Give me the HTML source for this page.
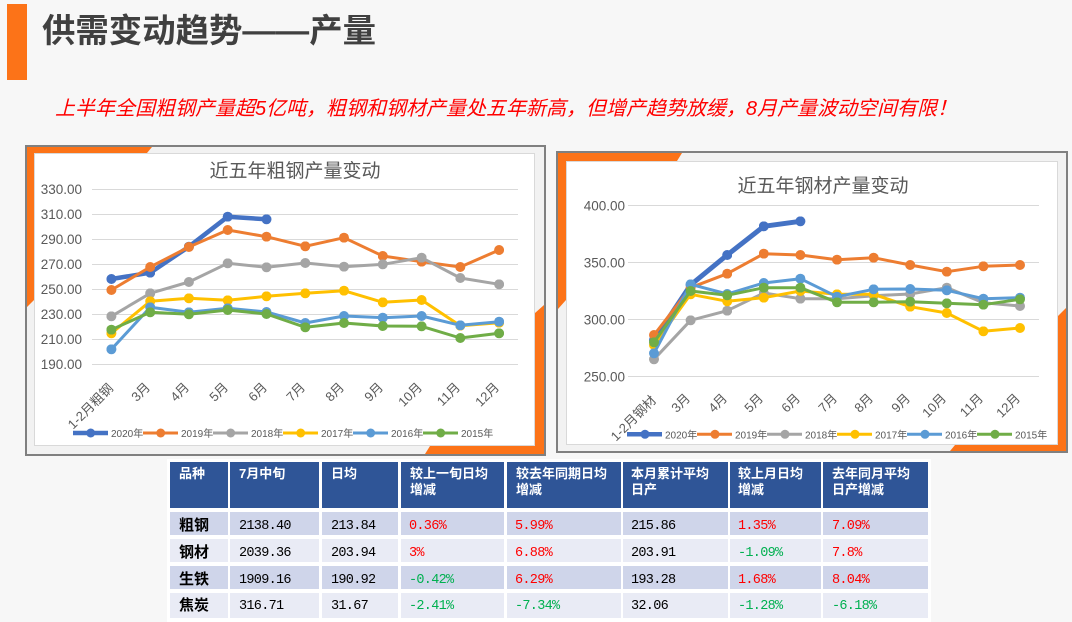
<!DOCTYPE html>
<html><head><meta charset="utf-8">
<style>
html,body{margin:0;padding:0;background:#f7f7f7;}
svg{display:block;}
.cjk{font-family:"Liberation Sans","Noto Sans CJK SC",sans-serif;}
.mono{font-family:"Liberation Mono","Noto Sans CJK SC",monospace;}
</style></head>
<body>
<svg width="1072" height="622" viewBox="0 0 1072 622" xmlns="http://www.w3.org/2000/svg">
<defs>
<marker id="a0" viewBox="0 0 10 10" refX="5" refY="5" markerWidth="10" markerHeight="10" markerUnits="userSpaceOnUse"><circle cx="5" cy="5" r="5" fill="#4472C4"/></marker>
<marker id="a1" viewBox="0 0 10 10" refX="5" refY="5" markerWidth="10" markerHeight="10" markerUnits="userSpaceOnUse"><circle cx="5" cy="5" r="5" fill="#ED7D31"/></marker>
<marker id="a2" viewBox="0 0 10 10" refX="5" refY="5" markerWidth="10" markerHeight="10" markerUnits="userSpaceOnUse"><circle cx="5" cy="5" r="5" fill="#A5A5A5"/></marker>
<marker id="a3" viewBox="0 0 10 10" refX="5" refY="5" markerWidth="10" markerHeight="10" markerUnits="userSpaceOnUse"><circle cx="5" cy="5" r="5" fill="#FFC000"/></marker>
<marker id="a4" viewBox="0 0 10 10" refX="5" refY="5" markerWidth="10" markerHeight="10" markerUnits="userSpaceOnUse"><circle cx="5" cy="5" r="5" fill="#5B9BD5"/></marker>
<marker id="a5" viewBox="0 0 10 10" refX="5" refY="5" markerWidth="10" markerHeight="10" markerUnits="userSpaceOnUse"><circle cx="5" cy="5" r="5" fill="#70AD47"/></marker>
</defs>

<rect width="1072" height="622" fill="#f7f7f7"/>

<!-- Title -->
<rect x="7" y="4" width="20" height="76" fill="#FC7318"/>
<text x="42" y="42" class="cjk" font-size="33" font-weight="bold" fill="#404040" textLength="334" lengthAdjust="spacingAndGlyphs">供需变动趋势——产量</text>
<text x="55" y="115" class="cjk" font-size="20" font-style="italic" fill="#FF0000" textLength="902" lengthAdjust="spacing">上半年全国粗钢产量超5亿吨，粗钢和钢材产量处五年新高，但增产趋势放缓，8月产量波动空间有限！</text>

<!-- ===== Chart 1 frame ===== -->
<rect x="26" y="146" width="519" height="309" fill="#f2f2f2" stroke="#808080" stroke-width="2"/>
<polygon points="27,147 152,147 147,153 34,153 34,300 27,307" fill="#FC7318"/>
<polygon points="544,305 544,454 425,454 430,446 535,446 535,313" fill="#FC7318"/>
<rect x="34.5" y="153.5" width="500" height="292" fill="#ffffff" stroke="#d9d9d9" stroke-width="1"/>

<text x="295" y="177" text-anchor="middle" class="cjk" font-size="19" fill="#595959">近五年粗钢产量变动</text>

<g stroke="#d9d9d9" stroke-width="1">
<line x1="92" y1="189.5" x2="518" y2="189.5"/>
<line x1="92" y1="214.5" x2="518" y2="214.5"/>
<line x1="92" y1="239.5" x2="518" y2="239.5"/>
<line x1="92" y1="264.5" x2="518" y2="264.5"/>
<line x1="92" y1="289.5" x2="518" y2="289.5"/>
<line x1="92" y1="314.5" x2="518" y2="314.5"/>
<line x1="92" y1="339.5" x2="518" y2="339.5"/>
<line x1="92" y1="364.5" x2="518" y2="364.5"/>
</g>
<g class="cjk" font-size="13.5" fill="#595959" text-anchor="end">
<text x="82" y="194">330.00</text>
<text x="82" y="219">310.00</text>
<text x="82" y="244">290.00</text>
<text x="82" y="269">270.00</text>
<text x="82" y="294">250.00</text>
<text x="82" y="319">230.00</text>
<text x="82" y="344">210.00</text>
<text x="82" y="369">190.00</text>
</g>
<g class="cjk" font-size="13" fill="#595959" text-anchor="end">
<text transform="translate(114,389) rotate(-45)">1-2月粗钢</text>
<text transform="translate(151,388) rotate(-45)">3月</text>
<text transform="translate(190,388) rotate(-45)">4月</text>
<text transform="translate(229,388) rotate(-45)">5月</text>
<text transform="translate(268,388) rotate(-45)">6月</text>
<text transform="translate(306,388) rotate(-45)">7月</text>
<text transform="translate(345,388) rotate(-45)">8月</text>
<text transform="translate(384,388) rotate(-45)">9月</text>
<text transform="translate(423,388) rotate(-45)">10月</text>
<text transform="translate(461,388) rotate(-45)">11月</text>
<text transform="translate(500,388) rotate(-45)">12月</text>
</g>

<g fill="none" stroke-linejoin="round">
<polyline stroke="#4472C4" stroke-width="4.5" marker-start="url(#a0)" marker-mid="url(#a0)" marker-end="url(#a0)" points="111.4,279 150.2,272.7 188.9,246.7 227.7,216.7 266.5,219.3"/>
<polyline stroke="#ED7D31" stroke-width="3" marker-start="url(#a1)" marker-mid="url(#a1)" marker-end="url(#a1)" points="111.4,290 150.2,267 188.9,247 227.7,230 266.5,236.7 305.3,246.3 344,237.7 382.8,256 421.6,261.7 460.3,267 499.1,250"/>
<polyline stroke="#A5A5A5" stroke-width="3" marker-start="url(#a2)" marker-mid="url(#a2)" marker-end="url(#a2)" points="111.4,316.3 150.2,293.3 188.9,282 227.7,263.3 266.5,267.3 305.3,263 344,266.7 382.8,264.3 421.6,257.7 460.3,278 499.1,284.3"/>
<polyline stroke="#FFC000" stroke-width="3" marker-start="url(#a3)" marker-mid="url(#a3)" marker-end="url(#a3)" points="111.4,333.3 150.2,301.3 188.9,298.3 227.7,300.3 266.5,296.3 305.3,293.3 344,290.7 382.8,302.3 421.6,300 460.3,325.7 499.1,322.7"/>
<polyline stroke="#5B9BD5" stroke-width="3" marker-start="url(#a4)" marker-mid="url(#a4)" marker-end="url(#a4)" points="111.4,349.3 150.2,307.3 188.9,312.3 227.7,308.3 266.5,312 305.3,323 344,316 382.8,317.7 421.6,316 460.3,325.3 499.1,321.7"/>
<polyline stroke="#70AD47" stroke-width="3" marker-start="url(#a5)" marker-mid="url(#a5)" marker-end="url(#a5)" points="111.4,329.7 150.2,312.3 188.9,314.3 227.7,310 266.5,314 305.3,327.3 344,323 382.8,326 421.6,326.3 460.3,338 499.1,333.3"/>
</g>

<!-- legend 1 -->
<g class="cjk" font-size="10" fill="#595959">
<line x1="73" y1="433" x2="108" y2="433" stroke="#4472C4" stroke-width="4.5"/><circle cx="90.7" cy="433" r="4.5" fill="#4472C4"/><text x="111" y="437">2020年</text>
<line x1="143" y1="433" x2="178" y2="433" stroke="#ED7D31" stroke-width="3"/><circle cx="160.7" cy="433" r="4.5" fill="#ED7D31"/><text x="181" y="437">2019年</text>
<line x1="213" y1="433" x2="248" y2="433" stroke="#A5A5A5" stroke-width="3"/><circle cx="230.7" cy="433" r="4.5" fill="#A5A5A5"/><text x="251" y="437">2018年</text>
<line x1="283" y1="433" x2="318" y2="433" stroke="#FFC000" stroke-width="3"/><circle cx="300.7" cy="433" r="4.5" fill="#FFC000"/><text x="321" y="437">2017年</text>
<line x1="353" y1="433" x2="388" y2="433" stroke="#5B9BD5" stroke-width="3"/><circle cx="370.7" cy="433" r="4.5" fill="#5B9BD5"/><text x="391" y="437">2016年</text>
<line x1="423" y1="433" x2="458" y2="433" stroke="#70AD47" stroke-width="3"/><circle cx="440.7" cy="433" r="4.5" fill="#70AD47"/><text x="461" y="437">2015年</text>
</g>

<!-- ===== Chart 2 frame ===== -->
<rect x="557" y="152" width="510" height="300" fill="#f2f2f2" stroke="#808080" stroke-width="2"/>
<polygon points="558,153 682,153 677,161 566,161 566,300 558,309" fill="#FC7318"/>
<polygon points="1066,308 1066,451 950,451 955,445 1058,445 1058,316" fill="#FC7318"/>
<rect x="566.5" y="161.5" width="491" height="283" fill="#ffffff" stroke="#d9d9d9" stroke-width="1"/>

<text x="823" y="192" text-anchor="middle" class="cjk" font-size="19" fill="#595959">近五年钢材产量变动</text>

<g stroke="#d9d9d9" stroke-width="1">
<line x1="628" y1="205.5" x2="1039" y2="205.5"/>
<line x1="628" y1="262.5" x2="1039" y2="262.5"/>
<line x1="628" y1="319.5" x2="1039" y2="319.5"/>
<line x1="628" y1="376.5" x2="1039" y2="376.5"/>
</g>
<g class="cjk" font-size="13.5" fill="#595959" text-anchor="end">
<text x="625" y="210.5">400.00</text>
<text x="625" y="267.5">350.00</text>
<text x="625" y="324.5">300.00</text>
<text x="625" y="381.5">250.00</text>
</g>
<g class="cjk" font-size="13" fill="#595959" text-anchor="end">
<text transform="translate(657,401) rotate(-45)">1-2月钢材</text>
<text transform="translate(691,399) rotate(-45)">3月</text>
<text transform="translate(728,399) rotate(-45)">4月</text>
<text transform="translate(764,399) rotate(-45)">5月</text>
<text transform="translate(801,399) rotate(-45)">6月</text>
<text transform="translate(838,399) rotate(-45)">7月</text>
<text transform="translate(874,399) rotate(-45)">8月</text>
<text transform="translate(911,399) rotate(-45)">9月</text>
<text transform="translate(947,399) rotate(-45)">10月</text>
<text transform="translate(984,399) rotate(-45)">11月</text>
<text transform="translate(1021,399) rotate(-45)">12月</text>
</g>

<g fill="none" stroke-linejoin="round">
<polyline stroke="#4472C4" stroke-width="5" marker-start="url(#a0)" marker-mid="url(#a0)" marker-end="url(#a0)" points="654,340 690.6,285 727.2,255 763.8,226.3 800.4,221.3"/>
<polyline stroke="#ED7D31" stroke-width="3" marker-start="url(#a1)" marker-mid="url(#a1)" marker-end="url(#a1)" points="654,335 690.6,287.7 727.2,273.7 763.8,253.7 800.4,255 837,259.7 873.6,257.7 910.2,265 946.8,271.7 983.4,266.3 1020,265"/>
<polyline stroke="#A5A5A5" stroke-width="3" marker-start="url(#a2)" marker-mid="url(#a2)" marker-end="url(#a2)" points="654,359.3 690.6,320.3 727.2,310.7 763.8,293 800.4,298.7 837,298.7 873.6,295.7 910.2,294 946.8,287.7 983.4,302.7 1020,306"/>
<polyline stroke="#FFC000" stroke-width="3" marker-start="url(#a3)" marker-mid="url(#a3)" marker-end="url(#a3)" points="654,345 690.6,294.3 727.2,301.3 763.8,297.7 800.4,291 837,294.3 873.6,294.3 910.2,306.7 946.8,313 983.4,331.3 1020,328"/>
<polyline stroke="#5B9BD5" stroke-width="3" marker-start="url(#a4)" marker-mid="url(#a4)" marker-end="url(#a4)" points="654,353.3 690.6,284.3 727.2,294 763.8,283 800.4,278.7 837,296.7 873.6,289.3 910.2,289 946.8,290.3 983.4,298.7 1020,297.7"/>
<polyline stroke="#70AD47" stroke-width="3" marker-start="url(#a5)" marker-mid="url(#a5)" marker-end="url(#a5)" points="654,342.3 690.6,291 727.2,295.3 763.8,287.7 800.4,287.7 837,302.3 873.6,302.3 910.2,301.7 946.8,303.3 983.4,304.7 1020,299.3"/>
</g>

<!-- legend 2 -->
<g class="cjk" font-size="10" fill="#595959">
<line x1="627" y1="434.3" x2="662" y2="434.3" stroke="#4472C4" stroke-width="4.5"/><circle cx="645" cy="434.3" r="4.5" fill="#4472C4"/><text x="665" y="438.3">2020年</text>
<line x1="697" y1="434.3" x2="732" y2="434.3" stroke="#ED7D31" stroke-width="3"/><circle cx="715" cy="434.3" r="4.5" fill="#ED7D31"/><text x="735" y="438.3">2019年</text>
<line x1="767" y1="434.3" x2="802" y2="434.3" stroke="#A5A5A5" stroke-width="3"/><circle cx="785" cy="434.3" r="4.5" fill="#A5A5A5"/><text x="805" y="438.3">2018年</text>
<line x1="837" y1="434.3" x2="872" y2="434.3" stroke="#FFC000" stroke-width="3"/><circle cx="855" cy="434.3" r="4.5" fill="#FFC000"/><text x="875" y="438.3">2017年</text>
<line x1="907" y1="434.3" x2="942" y2="434.3" stroke="#5B9BD5" stroke-width="3"/><circle cx="925" cy="434.3" r="4.5" fill="#5B9BD5"/><text x="945" y="438.3">2016年</text>
<line x1="977" y1="434.3" x2="1012" y2="434.3" stroke="#70AD47" stroke-width="3"/><circle cx="995" cy="434.3" r="4.5" fill="#70AD47"/><text x="1015" y="438.3">2015年</text>
</g>

<!-- ===== Table ===== -->
<rect x="167" y="459" width="764" height="163" fill="#ffffff"/>
<g fill="#2F5597">
<rect x="170" y="462" width="58" height="46"/>
<rect x="230" y="462" width="89" height="46"/>
<rect x="322" y="462" width="76" height="46"/>
<rect x="401" y="462" width="103" height="46"/>
<rect x="507" y="462" width="114" height="46"/>
<rect x="623" y="462" width="105" height="46"/>
<rect x="730" y="462" width="91" height="46"/>
<rect x="823" y="462" width="105" height="46"/>
</g>
<g fill="#CFD5EA">
<rect x="170" y="512" width="58" height="23"/><rect x="230" y="512" width="89" height="23"/><rect x="322" y="512" width="76" height="23"/><rect x="401" y="512" width="103" height="23"/><rect x="507" y="512" width="114" height="23"/><rect x="623" y="512" width="105" height="23"/><rect x="730" y="512" width="91" height="23"/><rect x="823" y="512" width="105" height="23"/>
<rect x="170" y="566" width="58" height="23"/><rect x="230" y="566" width="89" height="23"/><rect x="322" y="566" width="76" height="23"/><rect x="401" y="566" width="103" height="23"/><rect x="507" y="566" width="114" height="23"/><rect x="623" y="566" width="105" height="23"/><rect x="730" y="566" width="91" height="23"/><rect x="823" y="566" width="105" height="23"/>
</g>
<g fill="#E9EBF5">
<rect x="170" y="539" width="58" height="23"/><rect x="230" y="539" width="89" height="23"/><rect x="322" y="539" width="76" height="23"/><rect x="401" y="539" width="103" height="23"/><rect x="507" y="539" width="114" height="23"/><rect x="623" y="539" width="105" height="23"/><rect x="730" y="539" width="91" height="23"/><rect x="823" y="539" width="105" height="23"/>
<rect x="170" y="593" width="58" height="25"/><rect x="230" y="593" width="89" height="25"/><rect x="322" y="593" width="76" height="25"/><rect x="401" y="593" width="103" height="25"/><rect x="507" y="593" width="114" height="25"/><rect x="623" y="593" width="105" height="25"/><rect x="730" y="593" width="91" height="25"/><rect x="823" y="593" width="105" height="25"/>
</g>

<g class="cjk" font-size="13" font-weight="bold" fill="#ffffff">
<text x="179" y="478">品种</text>
<text x="239" y="478">7月中旬</text>
<text x="331" y="478">日均</text>
<text x="410" y="478">较上一旬日均</text><text x="410" y="494">增减</text>
<text x="516" y="478">较去年同期日均</text><text x="516" y="494">增减</text>
<text x="631" y="478">本月累计平均</text><text x="631" y="494">日产</text>
<text x="738" y="478">较上月日均</text><text x="738" y="494">增减</text>
<text x="832" y="478">去年同月平均</text><text x="832" y="494">日产增减</text>
</g>

<g class="cjk" font-size="15" font-weight="bold" fill="#000000">
<text x="179" y="530">粗钢</text>
<text x="179" y="557">钢材</text>
<text x="179" y="584">生铁</text>
<text x="179" y="610">焦炭</text>
</g>

<g class="mono" font-size="13.5" letter-spacing="-0.7">
<text x="239" y="529" fill="#000">2138.40</text>
<text x="331" y="529" fill="#000">213.84</text>
<text x="409" y="529" fill="#FF0000">0.36%</text>
<text x="515" y="529" fill="#FF0000">5.99%</text>
<text x="631" y="529" fill="#000">215.86</text>
<text x="738" y="529" fill="#FF0000">1.35%</text>
<text x="832" y="529" fill="#FF0000">7.09%</text>

<text x="239" y="556" fill="#000">2039.36</text>
<text x="331" y="556" fill="#000">203.94</text>
<text x="409" y="556" fill="#FF0000">3%</text>
<text x="515" y="556" fill="#FF0000">6.88%</text>
<text x="631" y="556" fill="#000">203.91</text>
<text x="738" y="556" fill="#00B050">-1.09%</text>
<text x="832" y="556" fill="#FF0000">7.8%</text>

<text x="239" y="583" fill="#000">1909.16</text>
<text x="331" y="583" fill="#000">190.92</text>
<text x="409" y="583" fill="#00B050">-0.42%</text>
<text x="515" y="583" fill="#FF0000">6.29%</text>
<text x="631" y="583" fill="#000">193.28</text>
<text x="738" y="583" fill="#FF0000">1.68%</text>
<text x="832" y="583" fill="#FF0000">8.04%</text>

<text x="239" y="609" fill="#000">316.71</text>
<text x="331" y="609" fill="#000">31.67</text>
<text x="409" y="609" fill="#00B050">-2.41%</text>
<text x="515" y="609" fill="#00B050">-7.34%</text>
<text x="631" y="609" fill="#000">32.06</text>
<text x="738" y="609" fill="#00B050">-1.28%</text>
<text x="832" y="609" fill="#00B050">-6.18%</text>
</g>
</svg>
</body></html>
